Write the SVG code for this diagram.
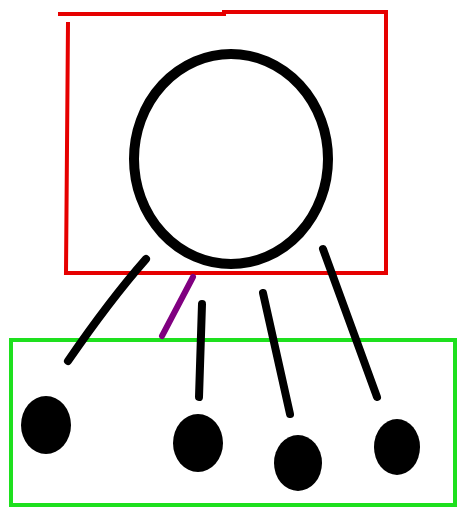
<svg xmlns="http://www.w3.org/2000/svg" width="458" height="510" viewBox="0 0 458 510">
<style>
.red{fill:none;stroke:#e60000;stroke-width:4}
.green{fill:none;stroke:#1ee01e;stroke-width:4}
.ln{fill:none;stroke:#000;stroke-width:8;stroke-linecap:round}
.dot{fill:#000}
</style>
<rect width="458" height="510" fill="#fff"/>
<g id="red-box">
<path class="red" d="M58 14 L224 14 L224 12 L386 12 L386 273 L66 273 L68 22"/>
</g>
<g id="circle">
<ellipse cx="231" cy="159" rx="97" ry="105" fill="none" stroke="#000" stroke-width="10"/>
</g>
<g id="green-box">
<rect class="green" x="11" y="340" width="444" height="165"/>
</g>
<g id="connectors">
<path class="ln" d="M146 259 Q110 300 68 361"/>
<path d="M193 277 L162 336" fill="none" stroke="#800080" stroke-width="6" stroke-linecap="round"/>
<path class="ln" d="M202 304 L199 397"/>
<path class="ln" d="M263 293 L290 414" stroke-width="9"/>
<path class="ln" d="M323 249 L377 397"/>
</g>
<g id="dot1"><ellipse class="dot" cx="46" cy="425" rx="25" ry="29"/></g>
<g id="dot2"><ellipse class="dot" cx="198" cy="443" rx="25" ry="29"/></g>
<g id="dot3"><ellipse class="dot" cx="298" cy="463" rx="24" ry="28"/></g>
<g id="dot4"><ellipse class="dot" cx="397" cy="447" rx="23" ry="28"/></g>
</svg>
